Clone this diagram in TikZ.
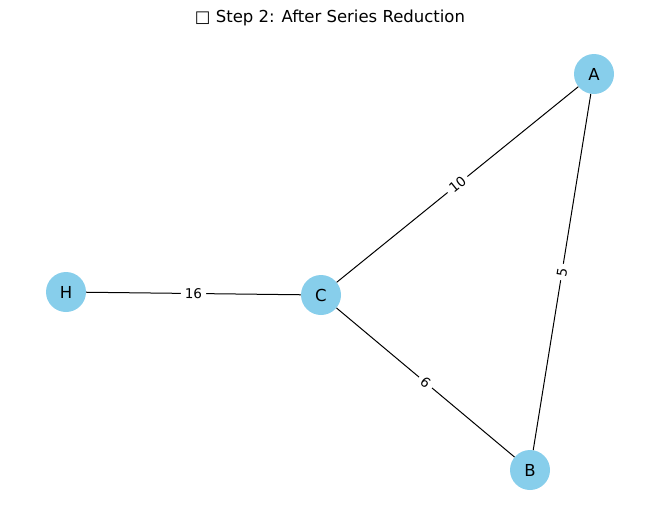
\documentclass[tikz,border=0pt]{standalone}
\usepackage{fontspec}
\setmainfont{DejaVu Sans}
\begin{document}
\begin{tikzpicture}[x=1pt,y=-1pt,
  vertex/.style={circle,fill=skyblue,draw=none,minimum size=40pt,inner sep=0pt,font=\fontsize{16.5}{19}\selectfont},
  edge/.style={draw=black,line width=1pt},
  elabel/.style={fill=white,inner xsep=4pt,inner ysep=2pt,font=\fontsize{13.5}{15}\selectfont,sloped,midway}]
\definecolor{skyblue}{HTML}{87CEEB}
\useasboundingbox (0,0) rectangle (660,522);
\node[font=\fontsize{16.5}{19}\selectfont] (title) at (330,18) {□ Step 2: After Series Reduction};
\node[vertex] (A) at (594,74) {A};
\node[vertex] (B) at (530,470) {B};
\node[vertex] (C) at (321,295) {C};
\node[vertex] (H) at (66,292) {H};
\draw[edge] (C) -- node[elabel] {10} (A);
\draw[edge] (B) -- node[elabel] {5} (A);
\draw[edge] (C) -- node[elabel] {6} (B);
\draw[edge] (H) -- node[elabel] {16} (C);
\end{tikzpicture}
\end{document}
